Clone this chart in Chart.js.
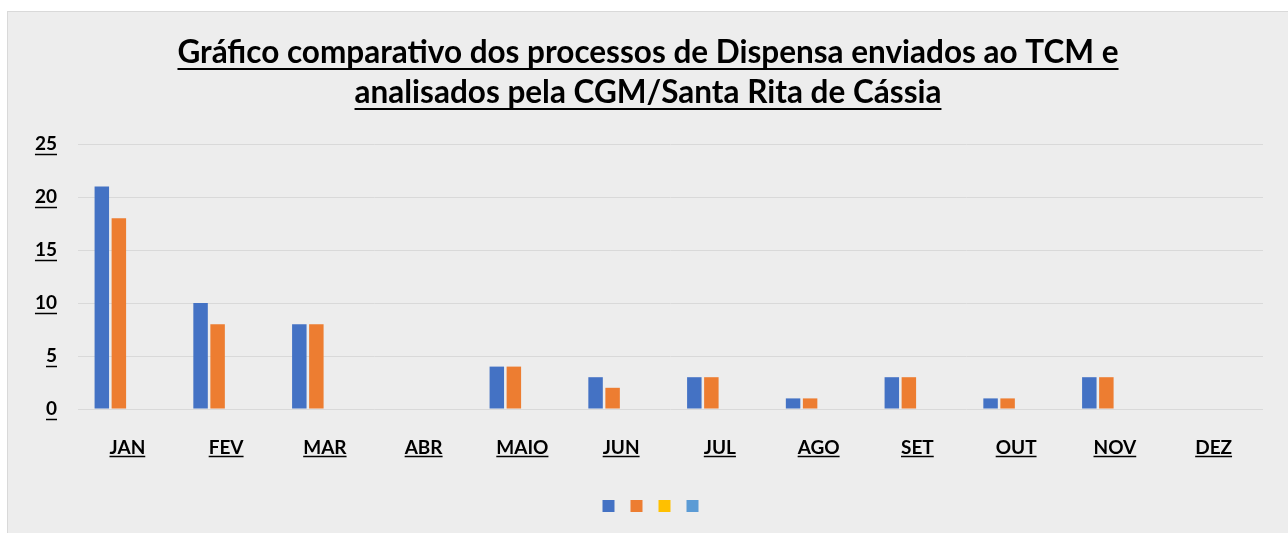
<!DOCTYPE html>
<html>
<head>
<meta charset="utf-8">
<script src="https://cdn.jsdelivr.net/npm/chart.js@4"></script>
<style>
  html, body { margin: 0; padding: 0; background: #ffffff; width: 1288px; height: 533px; overflow: hidden; }
  #panel { position: absolute; left: 7px; top: 11px; width: 1285px; height: 530px; background: #ededed; border-left: 1px solid #d9d9d9; border-top: 1px solid #d9d9d9; }
  #wrap { position: absolute; left: 0; top: 0; width: 1280px; height: 521px; }
</style>
</head>
<body>
<div id="panel"><div id="wrap"><canvas id="c"></canvas></div></div>
<script>
const titleLines = ['Gráfico comparativo dos processos de Dispensa enviados ao TCM e', 'analisados pela CGM/Santa Rita de Cássia'];
const categories = ['JAN', 'FEV', 'MAR', 'ABR', 'MAIO', 'JUN', 'JUL', 'AGO', 'SET', 'OUT', 'NOV', 'DEZ'];
const series1 = [21, 10, 8, 0, 4, 3, 3, 1, 3, 1, 3, 0];
const series2 = [18, 8, 8, 0, 4, 2, 3, 1, 3, 1, 3, 0];
const series3 = [null, null, null, null, null, null, null, null, null, null, null, null];
const series4 = [null, null, null, null, null, null, null, null, null, null, null, null];
const yTicks = [0, 5, 10, 15, 20, 25];

const FONT = 'Lato';
const TICK_SIZE = 19;
const TITLE_SIZE = 31.5;

const underlinePlugin = {
  id: 'underlines',
  afterDraw(chart) {
    const ctx = chart.ctx;
    ctx.save();
    ctx.strokeStyle = '#000';
    const tb = chart.titleBlock;
    ctx.font = 'bold ' + TITLE_SIZE + 'px ' + FONT;
    ctx.lineWidth = 2;
    const cx = (tb.left + tb.right) / 2;
    titleLines.forEach((t, i) => {
      const w = ctx.measureText(t).width;
      const y = tb.top + 21 + 20 + i * 40 + 16;
      ctx.beginPath(); ctx.moveTo(cx - w / 2, y); ctx.lineTo(cx + w / 2, y); ctx.stroke();
    });
    ctx.font = 'bold ' + TICK_SIZE + 'px ' + FONT;
    ctx.lineWidth = 1.5;
    const ys = chart.scales.y;
    ys.ticks.forEach((t, i) => {
      const y = ys.getPixelForTick(i) + 10.5;
      const xr = ys.right - 21;
      const w = ctx.measureText(String(t.label)).width;
      ctx.beginPath(); ctx.moveTo(xr - w, y); ctx.lineTo(xr, y); ctx.stroke();
    });
    const xs = chart.scales.x;
    xs.ticks.forEach((t, i) => {
      const x = xs.getPixelForTick(i);
      const y = xs.top + 27 + TICK_SIZE + 1.5;
      const w = ctx.measureText(String(t.label)).width;
      ctx.beginPath(); ctx.moveTo(x - w / 2, y); ctx.lineTo(x + w / 2, y); ctx.stroke();
    });
    ctx.restore();
  }
};

// place title across the full canvas width and nudge the legend row, as in the reference
const positionPlugin = {
  id: 'positionFix',
  afterLayout(chart) {
    const tb = chart.titleBlock;
    if (tb) { tb.left = 0; tb.right = chart.width; tb.width = chart.width; }
    const lg = chart.legend;
    if (lg) { lg.left += 18; lg.right += 18; }
  }
};

function build() {
  Chart.defaults.font.family = FONT;
  Chart.defaults.color = '#000';
  const mk = (label, data, color) => ({
    label, data, backgroundColor: color, borderWidth: 0,
    categoryPercentage: 0.69, barPercentage: 0.85
  });
  new Chart(document.getElementById('c'), {
    type: 'bar',
    data: {
      labels: categories,
      datasets: [
        mk('Série 1', series1, '#4472c4'),
        mk('Série 2', series2, '#ed7d31'),
        mk('Série 3', series3, '#ffc000'),
        mk('Série 4', series4, '#5b9bd5')
      ]
    },
    options: {
      responsive: true,
      maintainAspectRatio: false,
      animation: false,
      layout: { padding: { left: 0, right: 25, top: 0, bottom: 11 } },
      plugins: {
        tooltip: { enabled: false },
        title: {
          display: true,
          text: titleLines,
          color: '#000',
          font: { family: FONT, size: TITLE_SIZE, weight: 'bold', lineHeight: 40 / TITLE_SIZE },
          padding: { top: 21, bottom: 31 }
        },
        legend: {
          position: 'bottom',
          labels: {
            boxWidth: 12, boxHeight: 12, padding: 10,
            font: { size: 12 },
            generateLabels(chart) {
              return chart.data.datasets.map((d, i) => ({
                text: '', fillStyle: d.backgroundColor, strokeStyle: d.backgroundColor,
                lineWidth: 0, hidden: false, datasetIndex: i
              }));
            }
          }
        }
      },
      scales: {
        x: {
          grid: { display: false, drawTicks: false },
          border: { display: false },
          ticks: { padding: 27, font: { size: TICK_SIZE, weight: 'bold' }, color: '#000' },
          afterFit(s) { s.height = 81; }
        },
        y: {
          min: 0, max: 25,
          afterBuildTicks(s) { s.ticks = yTicks.map(v => ({ value: v })); },
          grid: { color: '#d9d9d9', lineWidth: 1, drawTicks: false },
          border: { display: false },
          ticks: { padding: 21, font: { size: TICK_SIZE, weight: 'bold' }, color: '#000' },
          afterFit(s) { s.width = 70; }
        }
      }
    },
    plugins: [positionPlugin, underlinePlugin]
  });
}

if (document.fonts && document.fonts.load) {
  Promise.all([
    document.fonts.load('bold 31px Lato'),
    document.fonts.load('bold 19px Lato')
  ]).then(build, build);
} else {
  build();
}
</script>
</body>
</html>
